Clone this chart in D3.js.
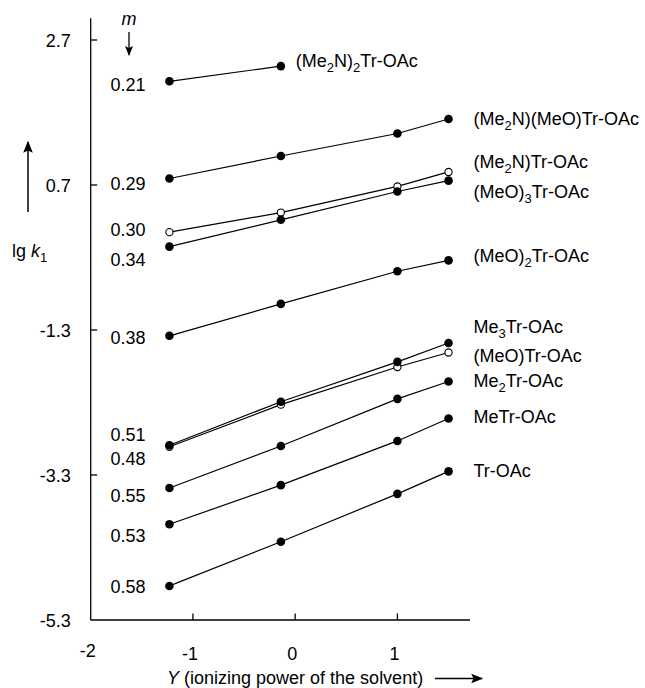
<!DOCTYPE html>
<html>
<head>
<meta charset="utf-8">
<script src="https://cdn.jsdelivr.net/npm/d3@7"></script>
<style>
  html, body { margin: 0; padding: 0; background: #fff; }
  svg { display: block; font-family: "Liberation Sans", Arial, sans-serif; }
</style>
</head>
<body>
<svg id="chart" width="645" height="688"></svg>
<script>
// ---------- data ----------
const solventY = [-1.23, -0.14, 1.0, 1.5];            // Y (ionizing power) of the four solvents
const compounds = [
  "(Me_2N)_2Tr-OAc", "(Me_2N)(MeO)Tr-OAc", "(Me_2N)Tr-OAc", "(MeO)_3Tr-OAc",
  "(MeO)_2Tr-OAc", "Me_3Tr-OAc", "(MeO)Tr-OAc", "Me_2Tr-OAc", "MeTr-OAc", "Tr-OAc"
];
const lgK1 = [
  [2.13, 2.34],
  [0.79, 1.10, 1.41, 1.61],
  [0.05, 0.32, 0.68, 0.88],
  [-0.15, 0.22, 0.61, 0.76],
  [-1.38, -0.94, -0.49, -0.34],
  [-2.89, -2.29, -1.74, -1.48],
  [-2.91, -2.33, -1.81, -1.61],
  [-3.48, -2.90, -2.25, -2.01],
  [-3.98, -3.44, -2.83, -2.52],
  [-4.83, -4.22, -3.56, -3.25]
];
const openMarker = [false, false, true, false, false, false, true, false, false, false];
const mValues = ["0.21", "0.29", "0.30", "0.34", "0.38", "0.51", "0.48", "0.55", "0.53", "0.58"];
const mLabelLg = [2.08, 0.72, 0.08, -0.33, -1.41, -2.74, -3.08, -3.59, -4.14, -4.84];
const nameLabelLg = [2.41, 1.61, 1.02, 0.61, -0.28, -1.25, -1.65, -2.00, -2.50, -3.24];
const yTicks = [2.7, 0.7, -1.3, -3.3, -5.3];
const xTicks = [-2, -1, 0, 1];

// ---------- scales ----------
const svg = d3.select("#chart");
const x = d3.scaleLinear().domain([-2, 1.71]).range([90.7, 470]);
const y = d3.scaleLinear().domain([-5.3, 2.7]).range([620, 40]);
const FS = 18;

// axes lines
const axisG = svg.append("g").attr("stroke", "#000").attr("stroke-width", 1.3).attr("fill", "none");
axisG.append("line").attr("x1", x(-2)).attr("x2", x(-2)).attr("y1", y(-5.3)).attr("y2", y(3.0));
axisG.append("line").attr("x1", x(-2)).attr("x2", x(1.71)).attr("y1", y(-5.3)).attr("y2", y(-5.3));

// y ticks (inward)
axisG.selectAll(".yt").data(yTicks.filter(d => d > -5.3)).join("line")
  .attr("x1", x(-2)).attr("x2", x(-2) + 6.5)
  .attr("y1", d => y(d)).attr("y2", d => y(d));
// x ticks (inward)
axisG.selectAll(".xt").data(xTicks.filter(d => d > -2)).join("line")
  .attr("x1", d => x(d)).attr("x2", d => x(d))
  .attr("y1", y(-5.3)).attr("y2", y(-5.3) - 6.5);

// tick labels
svg.selectAll(".ytl").data(yTicks).join("text")
  .attr("x", x(-2) - 20).attr("y", d => y(d) + 1).attr("dy", "0.35em")
  .attr("text-anchor", "end").attr("font-size", FS).text(d => d.toFixed(1));
svg.selectAll(".xtl").data(xTicks).join("text")
  .attr("x", d => x(d) - 3).attr("y", d => d === -2 ? 651 : 654).attr("dy", "0.35em")
  .attr("text-anchor", "middle").attr("font-size", FS).text(d => d);

// ---------- series ----------
const line = d3.line().x((d, i) => x(solventY[i])).y(d => y(d));
const seriesG = svg.append("g");
seriesG.selectAll("path").data(lgK1).join("path")
  .attr("d", d => line(d)).attr("fill", "none").attr("stroke", "#000").attr("stroke-width", 1.2);

// open markers first, filled on top
const order = d3.range(compounds.length).sort((a, b) => (openMarker[b] ? 1 : 0) - (openMarker[a] ? 1 : 0));
order.forEach(si => {
  seriesG.append("g").selectAll("circle").data(lgK1[si]).join("circle")
    .attr("cx", (d, i) => x(solventY[i])).attr("cy", d => y(d))
    .attr("r", openMarker[si] ? 3.6 : 4.3)
    .attr("fill", openMarker[si] ? "#fff" : "#000")
    .attr("stroke", "#000").attr("stroke-width", openMarker[si] ? 1.1 : 0);
});

// m labels
svg.selectAll(".ml").data(mValues).join("text")
  .attr("x", x(solventY[0]) - 24).attr("y", (d, i) => y(mLabelLg[i])).attr("dy", "0.35em")
  .attr("text-anchor", "end").attr("font-size", FS).text(d => d);

// compound labels with subscripts
function addRich(sel, str) {
  const parts = str.split(/(_\d)/).filter(p => p.length);
  let lowered = false;
  parts.forEach(p => {
    if (p[0] === "_") {
      sel.append("tspan").attr("font-size", 13).attr("dy", lowered ? 0 : 5).text(p.slice(1));
      lowered = true;
    } else {
      sel.append("tspan").attr("dy", lowered ? -5 : 0).text(p);
      lowered = false;
    }
  });
}
compounds.forEach((name, i) => {
  const vals = lgK1[i];
  const lastX = x(solventY[vals.length - 1]);
  const t = svg.append("text")
    .attr("x", lastX + (vals.length < 4 ? 15 : 25))
    .attr("y", y(nameLabelLg[i]) + FS * 0.35)
    .attr("font-size", FS);
  addRich(t, name);
});

// ---------- axis titles ----------
const defs = svg.append("defs");
defs.append("marker").attr("id", "ah").attr("viewBox", "0 0 10 10").attr("refX", 9).attr("refY", 5)
  .attr("markerWidth", 10).attr("markerHeight", 10).attr("markerUnits", "userSpaceOnUse")
  .attr("orient", "auto")
  .append("path").attr("d", "M0,1 L10,5 L0,9 L2,5 Z").attr("fill", "#000");
defs.append("marker").attr("id", "ah2").attr("viewBox", "0 0 10 10").attr("refX", 9).attr("refY", 5)
  .attr("markerWidth", 14).attr("markerHeight", 12).attr("markerUnits", "userSpaceOnUse")
  .attr("orient", "auto")
  .append("path").attr("d", "M0,1 L10,5 L0,9 L2,5 Z").attr("fill", "#000");

// m with down arrow
svg.append("text").attr("x", 129).attr("y", 25).attr("text-anchor", "middle")
  .attr("font-size", FS).attr("font-style", "italic").text("m");
svg.append("line").attr("x1", 129).attr("x2", 129).attr("y1", 32).attr("y2", 55)
  .attr("stroke", "#000").attr("stroke-width", 1.3).attr("marker-end", "url(#ah)");

// lg k1 with up arrow
svg.append("line").attr("x1", 28).attr("x2", 28).attr("y1", 212).attr("y2", 142)
  .attr("stroke", "#000").attr("stroke-width", 1.5).attr("marker-end", "url(#ah2)");
const yl = svg.append("text").attr("x", 12).attr("y", 257).attr("font-size", FS);
yl.append("tspan").text("lg ");
yl.append("tspan").attr("font-style", "italic").text("k");
yl.append("tspan").attr("font-size", 13).attr("dy", 5).text("1");

// x title with right arrow
const xl = svg.append("text").attr("x", 167).attr("y", 684).attr("font-size", FS);
xl.append("tspan").attr("font-style", "italic").text("Y");
xl.append("tspan").text(" (ionizing power of the solvent)");
svg.append("line").attr("x1", 435).attr("x2", 482).attr("y1", 678.5).attr("y2", 678.5)
  .attr("stroke", "#000").attr("stroke-width", 1.5).attr("marker-end", "url(#ah2)");
</script>
</body>
</html>
